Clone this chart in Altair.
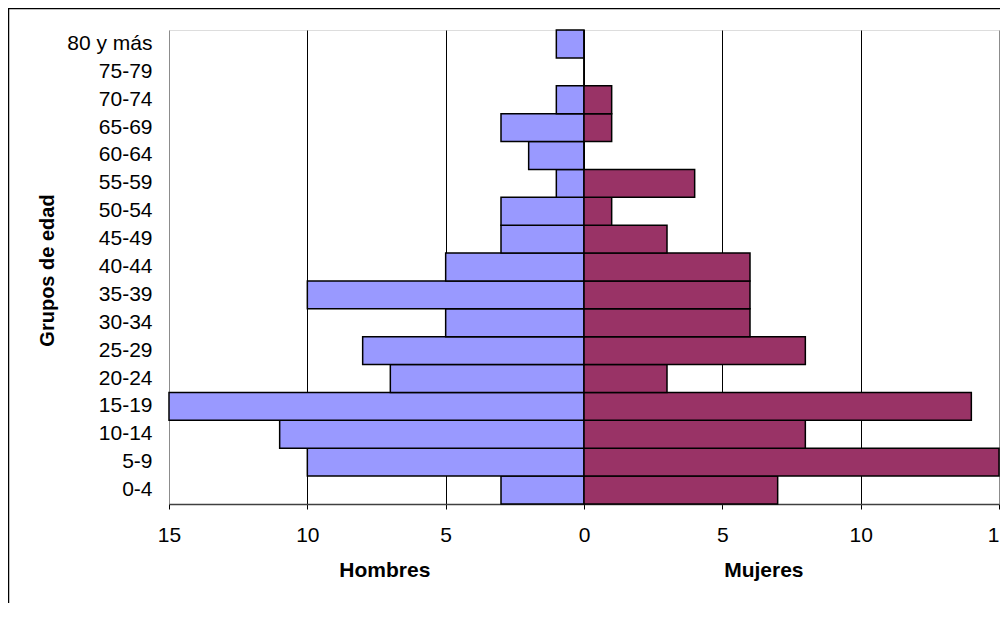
import altair as alt
import pandas as pd

# Age groups (bottom to top) and counts per sex
grupos = ["0-4", "5-9", "10-14", "15-19", "20-24", "25-29", "30-34", "35-39",
          "40-44", "45-49", "50-54", "55-59", "60-64", "65-69", "70-74",
          "75-79", "80 y más"]
hombres = [3, 10, 11, 15, 7, 8, 5, 10, 5, 3, 3, 1, 2, 3, 1, 0, 1]
mujeres = [7, 15, 8, 14, 3, 8, 6, 6, 6, 3, 1, 4, 0, 1, 1, 0, 0]

x_ticks = [-15, -10, -5, 0, 5, 10, 15]
side_titles = ["Hombres", "Mujeres"]
side_title_pos = [-7.2, 6.5]

rows = []
for g, h, m in zip(grupos, hombres, mujeres):
    rows.append({"grupo": g, "sexo": "Hombres", "valor": -h})
    rows.append({"grupo": g, "sexo": "Mujeres", "valor": m})
df = pd.DataFrame(rows)

orden = list(reversed(grupos))
FONT = "Liberation Sans"

x_scale = alt.Scale(domain=[-15, 15], nice=False, zero=False)

bars = alt.Chart(df).mark_bar(stroke="black", strokeWidth=1.5).encode(
    x=alt.X("valor:Q", scale=x_scale,
            axis=alt.Axis(values=x_ticks, labelExpr="format(abs(datum.value), 'd')",
                          title=None, grid=True,
                          gridColor={"condition": {"test": "abs(datum.value) >= 15", "value": "#8c8c8c"},
                                     "value": "black"},
                          gridWidth=1, tickSize=5, tickColor="black", domainColor="#404040",
                          domainWidth=1.5, labelFontSize=21, labelFont=FONT,
                          labelColor="black", labelPadding=15, labelFlush=False)),
    y=alt.Y("grupo:N", sort=orden,
            scale=alt.Scale(paddingInner=0, paddingOuter=0),
            axis=alt.Axis(title="Grupos de edad", domain=False, ticks=False,
                          labelFontSize=21, labelFont=FONT, labelColor="black",
                          labelPadding=17, titleFont=FONT, titleFontSize=20,
                          titleFontWeight="bold", titleColor="black",
                          titleX=-122, titleY=240, titleAngle=-90,
                          titleAlign="center", titleBaseline="middle")),
    color=alt.Color("sexo:N",
                    scale=alt.Scale(domain=["Hombres", "Mujeres"],
                                    range=["#9999FF", "#993366"]),
                    legend=None),
)

titles_df = pd.DataFrame({"t": side_titles, "pos": side_title_pos})
side = alt.Chart(titles_df).mark_text(
    font=FONT, fontSize=21, fontWeight="bold", color="black",
    baseline="middle", align="center"
).encode(
    x=alt.X("pos:Q", scale=x_scale),
    y=alt.value(541),
    text="t:N",
)

frame = alt.Chart(pd.DataFrame({"a": [0]})).mark_rect(
    fillOpacity=0, stroke="black", strokeWidth=1.5
).encode(
    x=alt.value(-160.5), x2=alt.value(1000),
    y=alt.value(-21.5), y2=alt.value(800),
)

chart = alt.layer(bars, side, frame).properties(
    width=830, height=474,
    autosize=alt.AutoSizeParams(type="none"),
    padding={"left": 161, "top": 22, "right": 1, "bottom": 99},
).configure_view(
    stroke="#8c8c8c", strokeWidth=1.5
).configure(background="white")

chart.save("out.html", embed_options={"renderer": "svg", "actions": False})
